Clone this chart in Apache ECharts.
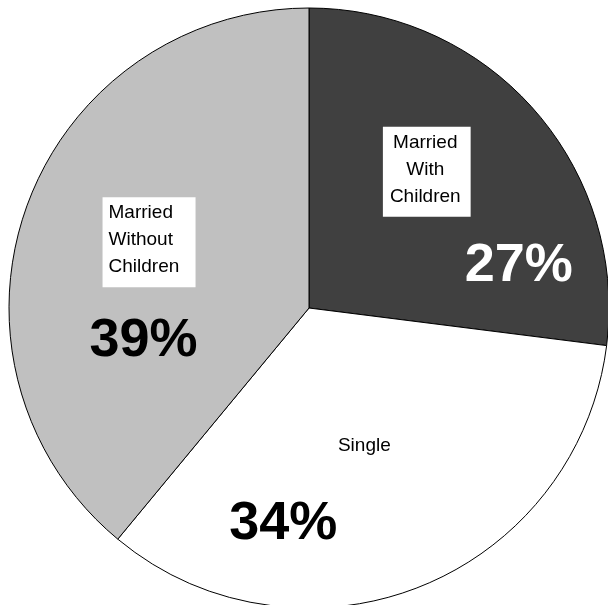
<!DOCTYPE html>
<html>
<head>
<meta charset="utf-8">
<script src="https://cdn.jsdelivr.net/npm/echarts@6/dist/echarts.min.js"></script>
<style>html,body{margin:0;padding:0;background:#fff;}#main{width:608px;height:605px;}</style>
</head>
<body>
<div id="main"></div>
<script>
// Data
const categories = ['Married\nWith\nChildren', 'Single', 'Married\nWithout\nChildren'];
const values = [27, 34, 39];

// Styles (kept separate from data)
const colors = ['#404040', '#ffffff', '#c0c0c0'];
const pctColors = ['#ffffff', '#000000', '#000000'];
const nameOffsets = [[3, -35], [-1, -4.5], [-16, -14]];
const pctOffsets = [[95, 59], [-82, 73.5], [-21.5, 85]];
const nameAligns = ['c', 'c', 'l'];
const nameBoxes = [
  {backgroundColor: '#fff', padding: [2, 10, 7, 7]},
  {backgroundColor: 'transparent', padding: 0},
  {backgroundColor: '#fff', padding: [2, 16, 7, 6]}
];
const FONT = '"Liberation Sans", Arial, sans-serif';

const chart = echarts.init(document.getElementById('main'));
const center = [309, 308];
const radius = 300;

chart.setOption({
  animation: false,
  backgroundColor: '#fff',
  series: [
    {
      type: 'pie',
      center: center,
      radius: radius,
      startAngle: 90,
      clockwise: true,
      avoidLabelOverlap: false,
      silent: true,
      labelLine: {show: false},
      itemStyle: {borderColor: '#000', borderWidth: 1},
      label: {
        show: true,
        position: 'inside',
        formatter: function (p) {
          const tag = nameAligns[p.dataIndex];
          return p.name.split('\n').map(s => '{' + tag + '|' + s + '}').join('\n');
        },
        fontFamily: FONT,
        fontSize: 19,
        lineHeight: 27,
        color: '#000',
        rich: {
          c: {fontFamily: FONT, fontSize: 19, lineHeight: 27, color: '#000', align: 'center'},
          l: {fontFamily: FONT, fontSize: 19, lineHeight: 27, color: '#000', align: 'left', width: 71}
        }
      },
      labelLayout: function (p) {
        const o = nameOffsets[p.dataIndex];
        return {dx: o[0], dy: o[1]};
      },
      data: categories.map((c, i) => ({
        name: c,
        value: values[i],
        itemStyle: {color: colors[i]},
        label: nameBoxes[i]
      }))
    },
    {
      type: 'pie',
      center: center,
      radius: radius,
      startAngle: 90,
      clockwise: true,
      avoidLabelOverlap: false,
      silent: true,
      labelLine: {show: false},
      itemStyle: {color: 'transparent', borderWidth: 0},
      label: {
        show: true,
        position: 'inside',
        formatter: '{c}%',
        fontFamily: FONT,
        fontSize: 54,
        fontWeight: 'bold',
        lineHeight: 56
      },
      labelLayout: function (p) {
        const o = pctOffsets[p.dataIndex];
        return {dx: o[0], dy: o[1]};
      },
      data: categories.map((c, i) => ({
        name: c,
        value: values[i],
        label: {color: pctColors[i]}
      }))
    }
  ]
});
</script>
</body>
</html>
